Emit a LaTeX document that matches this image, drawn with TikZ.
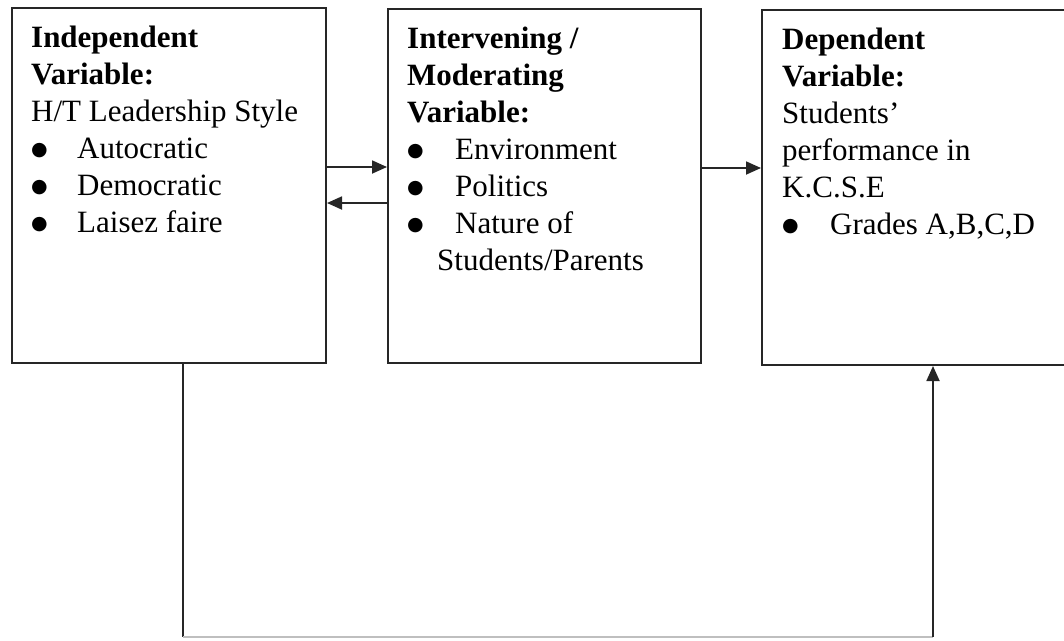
\documentclass[tikz,border=0pt]{standalone}
\usepackage{fontspec}
\setmainfont{Liberation Serif}
\newfontfamily\dvfont{DejaVu Sans}
\usetikzlibrary{arrows.meta}
\newcommand{\bl}[1]{\makebox[#1][l]{\raisebox{3pt}{\dvfont\fontsize{19}{19}\selectfont ●}}}
\begin{document}
\begin{tikzpicture}[x=1pt,y=-1pt,
  box/.style={draw=black!85, line width=2pt, rectangle, inner sep=0pt},
  txt/.style={anchor=north west, inner sep=0pt, align=left, font=\fontsize{31}{37}\selectfont},
  conn/.style={draw=black!85, line width=1.8pt},
  arr/.style={conn, -{Triangle[length=15pt,width=13pt]}}]
\useasboundingbox (0,0) rectangle (1064,640);
\clip (0,0) rectangle (1064,640);
\node[box, minimum width=314pt, minimum height=355pt] (b1) at (169,185.5) {};
\node[box, minimum width=313pt, minimum height=354pt] (b2) at (544.5,186) {};
\node[box, minimum width=330pt, minimum height=355pt] (b3) at (927,187.5) {};
\node[txt] (t1) at (31,21) {\strut\textbf{Independent}\\ \textbf{Variable:}\\ H/T Leadership Style\\ \bl{46pt}Autocratic\\ \bl{46pt}Democratic\\ \bl{46pt}Laisez faire};
\node[txt] (t2) at (407,22) {\strut\textbf{Intervening /}\\ \textbf{Moderating}\\ \textbf{Variable:}\\ \bl{48pt}Environment\\ \bl{48pt}Politics\\ \bl{48pt}Nature of\\ \hspace{30pt}Students/Parents};
\node[txt] (t3) at (782,23) {\strut\textbf{Dependent}\\ \textbf{Variable:}\\ Students’\\ performance in\\ K.C.S.E\\ \bl{48pt}Grades A,B,C,D};
\coordinate (fb1) at (183,637);
\coordinate (fb2) at (933,637);
\draw[arr] (b1.east |- 0,167) -- (b2.west |- 0,167);
\draw[arr] (b2.west |- 0,203) -- (b1.east |- 0,203);
\draw[arr] (b2.east |- 0,168) -- (b3.west |- 0,168);
\draw[conn] (b1.south -| fb1) -- (fb1);
\draw[conn, draw=black!25, line width=1.2pt] (fb1) -- (fb2);
\draw[arr] (fb2) -- (b3.south -| fb2);
\end{tikzpicture}
\end{document}
